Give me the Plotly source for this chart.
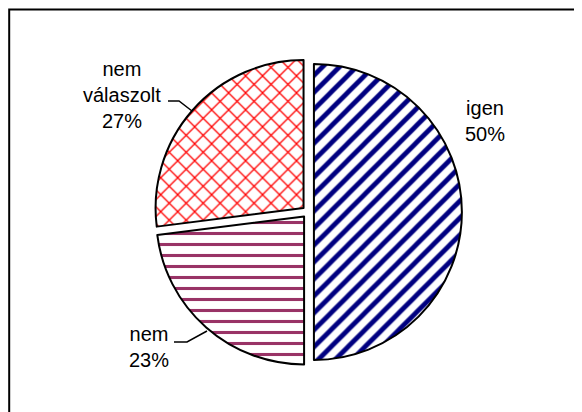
import plotly.graph_objects as go

# ---- data ----
labels = ["igen", "nem", "nem válaszolt"]
values = [50, 23, 27]
colors = ["#000080", "#993366", "#FF0000"]
patterns = ["/", "-", "x"]

W, H = 582, 412
OFF = 8  # page body margin offset in the browser
total = sum(values)

def px(x):
    return (x - OFF) / W

def py(y):
    return 1 - (y - OFF) / H

# pie geometry (target pixel centre and half-size of domain)
cx, cy, half = 308, 212, 153.9

fig = go.Figure()
fig.add_trace(go.Pie(
    labels=labels,
    values=values,
    sort=False,
    direction="clockwise",
    rotation=0,
    pull=[0.04, 0.04, 0.04],
    textinfo="none",
    hoverinfo="label+percent",
    showlegend=False,
    domain=dict(x=[px(cx - half), px(cx + half)], y=[py(cy + half), py(cy - half)]),
    marker=dict(
        colors=["white"] * 3,
        line=dict(color="black", width=2),
        pattern=dict(
            shape=patterns,
            fgcolor=colors,
            bgcolor="white",
            size=[12, 11, 12],
            solidity=[0.4, 0.28, 0.2],
            fillmode="replace",
        ),
    ),
))

# label text built from data
def label_text(i):
    lab = labels[i].replace(" ", "<br>")
    return f"{lab}<br>{round(values[i] / total * 100)}%"

label_pos = {0: (485, 121), 1: (149, 347), 2: (122, 95)}
annotations = []
for i, (x, y) in label_pos.items():
    annotations.append(dict(
        x=px(x), y=py(y), xref="paper", yref="paper",
        text=label_text(i), showarrow=False,
        xanchor="center", yanchor="middle", align="center",
        font=dict(family="Liberation Sans, Arial, sans-serif", size=20, color="black"),
    ))

shapes = [
    # outer border
    dict(type="rect", xref="paper", yref="paper",
         x0=px(9.2), x1=1.05, y0=-0.05, y1=py(9.5),
         line=dict(color="black", width=2), fillcolor="rgba(0,0,0,0)", layer="below"),
    # leader line: nem válaszolt
    dict(type="path", xref="paper", yref="paper",
         path=f"M {px(168)} {py(101)} L {px(179)} {py(101)} L {px(192)} {py(111)}",
         line=dict(color="black", width=1.5)),
    # leader line: nem
    dict(type="path", xref="paper", yref="paper",
         path=f"M {px(174)} {py(342)} L {px(187)} {py(342)} L {px(207)} {py(331)}",
         line=dict(color="black", width=1.5)),
]

fig.update_layout(
    width=W, height=H,
    margin=dict(l=0, r=0, t=0, b=0),
    paper_bgcolor="white",
    plot_bgcolor="white",
    annotations=annotations,
    shapes=shapes,
)

fig.write_html("out.html")
